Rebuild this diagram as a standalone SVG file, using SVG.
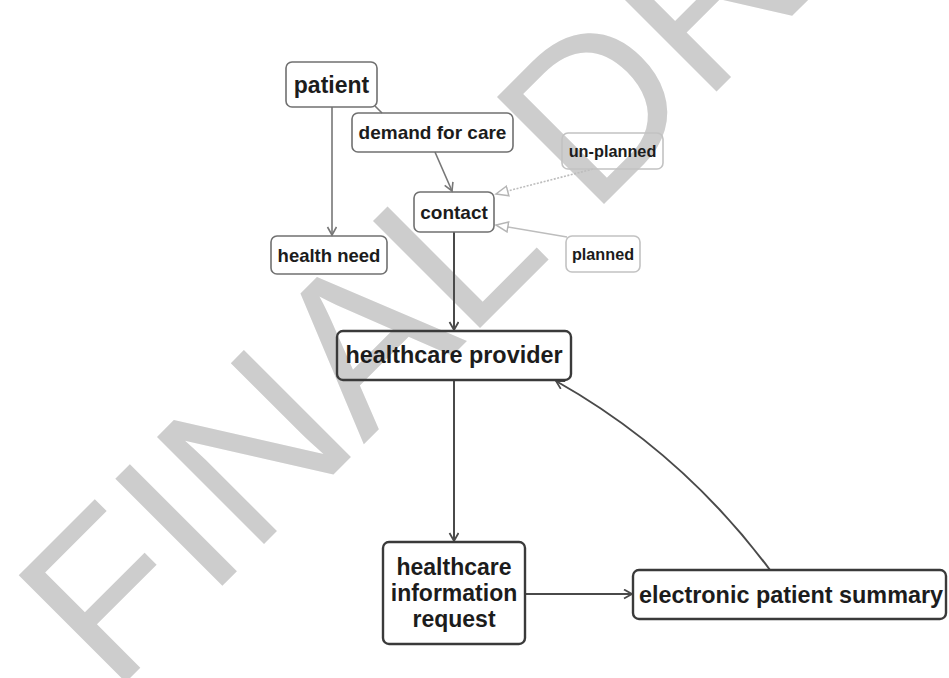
<svg xmlns="http://www.w3.org/2000/svg" width="949" height="678" viewBox="0 0 949 678">
<style>
  .wm { font-family: "Liberation Sans", Arial, sans-serif; font-size: 220px; fill: #cdcdcd; }
  .box { fill: none; stroke: #707070; stroke-width: 1.6; }
  .light { fill: none; stroke: #c2c2c2; stroke-width: 1.6; }
  .dark { fill: none; stroke: #3a3a3a; stroke-width: 2.4; }
  .lbl { font-family: "Liberation Sans", Arial, sans-serif; font-weight: bold; fill: #1c1c1c; text-anchor: middle; }
  .c-gray { fill: none; stroke: #777; stroke-width: 1.6; }
  .c-dark { fill: none; stroke: #4a4a4a; stroke-width: 2; }
  .c-light { fill: none; stroke: #bdbdbd; stroke-width: 1.6; }
</style>
<defs>
  <marker id="vGray" markerUnits="userSpaceOnUse" markerWidth="12" markerHeight="12" refX="9" refY="5" orient="auto">
    <path d="M1,0.5 L9,5 L1,9.5" fill="none" stroke="#777" stroke-width="1.6"/>
  </marker>
  <marker id="vDark" markerUnits="userSpaceOnUse" markerWidth="12" markerHeight="12" refX="9" refY="5" orient="auto">
    <path d="M1,0.5 L9,5 L1,9.5" fill="none" stroke="#4a4a4a" stroke-width="1.8"/>
  </marker>
  <marker id="tri" markerUnits="userSpaceOnUse" markerWidth="16" markerHeight="14" refX="13" refY="6" orient="auto">
    <path d="M1,1 L13,6 L1,11 Z" fill="#ffffff" stroke="#b5b5b5" stroke-width="1.5"/>
  </marker>
</defs>

<rect width="949" height="678" fill="#ffffff"/>

<g id="watermark">
  <text class="wm" transform="translate(113,695) rotate(-45)" x="0" y="0">FINAL DRAFT</text>
</g>

<g id="connectors">
  <path class="c-gray" d="M332,107 L332,235" marker-end="url(#vGray)"/>
  <path class="c-gray" d="M375,106 L382,113"/>
  <path class="c-gray" d="M435,152 L452,191" marker-end="url(#vGray)"/>
  <path class="c-light" d="M593,169 L496,194" stroke-dasharray="2,1.5" marker-end="url(#tri)"/>
  <path class="c-light" d="M567,237 L496,225" marker-end="url(#tri)"/>
  <path class="c-dark" d="M454,232 L454,330" marker-end="url(#vDark)"/>
  <path class="c-dark" d="M454,380 L454,541" marker-end="url(#vDark)"/>
  <path class="c-dark" d="M525,594 L632,594" marker-end="url(#vDark)"/>
  <path class="c-dark" d="M770,570 Q682,452 556,381" marker-end="url(#vDark)"/>
</g>

<g id="patient">
  <rect class="box" x="286" y="62" width="91" height="45" rx="6"/>
  <text class="lbl" x="331.5" y="93" font-size="23">patient</text>
</g>
<g id="demand-for-care">
  <rect class="box" x="352" y="113" width="161" height="39" rx="6"/>
  <text class="lbl" x="432.5" y="139" font-size="19">demand for care</text>
</g>
<g id="contact">
  <rect class="box" x="414" y="192" width="80" height="40" rx="6"/>
  <text class="lbl" x="454" y="218.5" font-size="19">contact</text>
</g>
<g id="health-need">
  <rect class="box" x="271" y="236" width="116" height="38" rx="6"/>
  <text class="lbl" x="329" y="262" font-size="18.5">health need</text>
</g>
<g id="un-planned">
  <rect class="light" x="562" y="133" width="101" height="36" rx="6"/>
  <text class="lbl" x="612.5" y="157" font-size="16.3">un-planned</text>
</g>
<g id="planned">
  <rect class="light" x="566" y="236" width="74" height="36" rx="6"/>
  <text class="lbl" x="603" y="260" font-size="16.2">planned</text>
</g>
<g id="healthcare-provider">
  <rect class="dark" x="337" y="331" width="234" height="49" rx="6"/>
  <text class="lbl" x="454" y="363" font-size="23.4">healthcare provider</text>
</g>
<g id="healthcare-information-request">
  <rect class="dark" x="383" y="542" width="142" height="102" rx="6"/>
  <text class="lbl" x="454" y="575" font-size="23">healthcare</text>
  <text class="lbl" x="454" y="601" font-size="23">information</text>
  <text class="lbl" x="454" y="627" font-size="23">request</text>
</g>
<g id="electronic-patient-summary">
  <rect class="dark" x="633" y="570" width="313" height="49" rx="6"/>
  <text class="lbl" x="791" y="603" font-size="23.4">electronic patient summary</text>
</g>
</svg>
